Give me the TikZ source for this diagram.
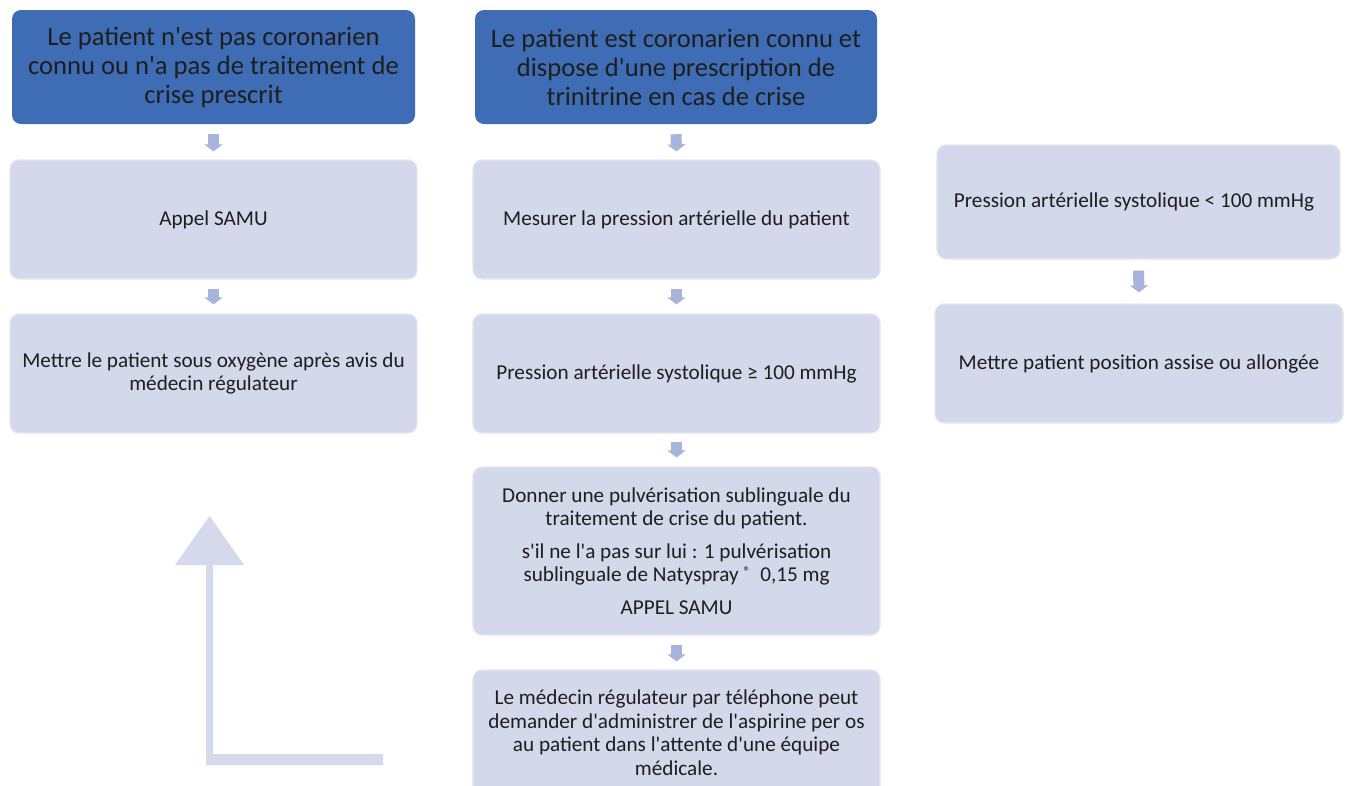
\documentclass[tikz,border=0pt]{standalone}
\usepackage{fontspec}
\setmainfont{Carlito}[Ligatures=TeXOff]
\usetikzlibrary{arrows.meta}
\definecolor{hdrblue}{HTML}{3E6DB5}
\definecolor{boxfill}{HTML}{D3D8EA}
\definecolor{boxedge}{HTML}{E4E7F2}
\definecolor{arrowc}{HTML}{A7B4DC}
\definecolor{bigarrow}{HTML}{D4D9EB}
\definecolor{txt}{HTML}{1E1E1E}
\tikzset{
  hdr/.style={rectangle, rounded corners=9pt, fill=hdrblue, draw=none, text=txt,
    align=center, inner sep=0pt, font=\fontsize{26.6}{29}\selectfont},
  lbox/.style={rectangle, rounded corners=9pt, fill=boxfill, draw=boxedge, line width=1.2pt,
    text=txt, align=center, inner sep=0pt, font=\fontsize{21.2}{23.5}\selectfont},
  blk/.style={draw=arrowc, line width=11pt, -{Triangle[length=7pt,width=18pt]}},
}
\begin{document}
\begin{tikzpicture}[x=1pt,y=-1pt]
\clip (0,0) rectangle (1349,785);
\fill[white] (0,0) rectangle (1349,785);
% headers
\node[hdr, minimum width=403pt, minimum height=114pt] (h1) at (213.5,67)
  {Le patient n'est pas coronarien\\connu ou n'a pas de traitement de\\crise prescrit};
\node[hdr, minimum width=402pt, minimum height=114pt] (h2) at (676,67)
  {Le patient est coronarien connu et\\dispose d'une prescription de\\trinitrine en cas de crise};
% left column
\node[lbox, minimum width=407pt, minimum height=119pt] (l1) at (213.5,219.5) {Appel SAMU};
\node[lbox, minimum width=407pt, minimum height=119pt] (l2) at (213.5,373.5)
  {Mettre le patient sous oxygène après avis du\\médecin régulateur};
% middle column
\node[lbox, minimum width=407pt, minimum height=119pt] (m1) at (676.5,219.5)
  {Mesurer la pression artérielle du patient};
\node[lbox, minimum width=407pt, minimum height=119pt] (m2) at (676.5,373.5)
  {Pression artérielle systolique ≥ 100 mmHg};
\node[lbox, minimum width=407pt, minimum height=168pt] (m3) at (676.5,551)
  {Donner une pulvérisation sublinguale du\\traitement de crise du patient.\\[9pt]
   s'il ne l'a pas sur lui : 1 pulvérisation\\sublinguale de Natyspray \raisebox{5pt}{\fontsize{14}{14}\selectfont ®}\ \ 0,15 mg\\[9pt]
   APPEL SAMU};
\node[lbox, minimum width=407pt, minimum height=125pt] (m4) at (676.5,732.5)
  {Le médecin régulateur par téléphone peut\\demander d'administrer de l'aspirine per os\\au patient dans l'attente d'une équipe\\médicale.};
% right column
\node[lbox, minimum width=403pt, minimum height=114pt] (r1) at (1138.5,202)
  {Pression artérielle systolique < 100 mmHg\hspace*{9pt}};
\node[lbox, minimum width=408pt, minimum height=119pt] (r2) at (1139,363.5)
  {Mettre patient position assise ou allongée};
% small block arrows
\draw[blk] ([yshift=-10pt]h1.south) -- ([yshift=8pt]l1.north);
\draw[blk] ([yshift=-9pt]l1.south) -- ([yshift=9pt]l2.north);
\draw[blk] ([yshift=-10pt]h2.south) -- ([yshift=8pt]m1.north);
\draw[blk] ([yshift=-9pt]m1.south) -- ([yshift=9pt]m2.north);
\draw[blk] ([yshift=-8pt]m2.south) -- ([yshift=9pt]m3.north);
\draw[blk] ([yshift=-9pt]m3.south) -- ([yshift=8pt]m4.north);
\draw[blk] ([yshift=-11pt]r1.south) -- ([yshift=11pt]r2.north);
% big L arrow
\fill[bigarrow] (206,765) -- (383,765) -- (383,754) -- (213,754) -- (213,565)
  -- (244,565) -- (209.5,516) -- (175,565) -- (206,565) -- cycle;
\end{tikzpicture}
\end{document}
